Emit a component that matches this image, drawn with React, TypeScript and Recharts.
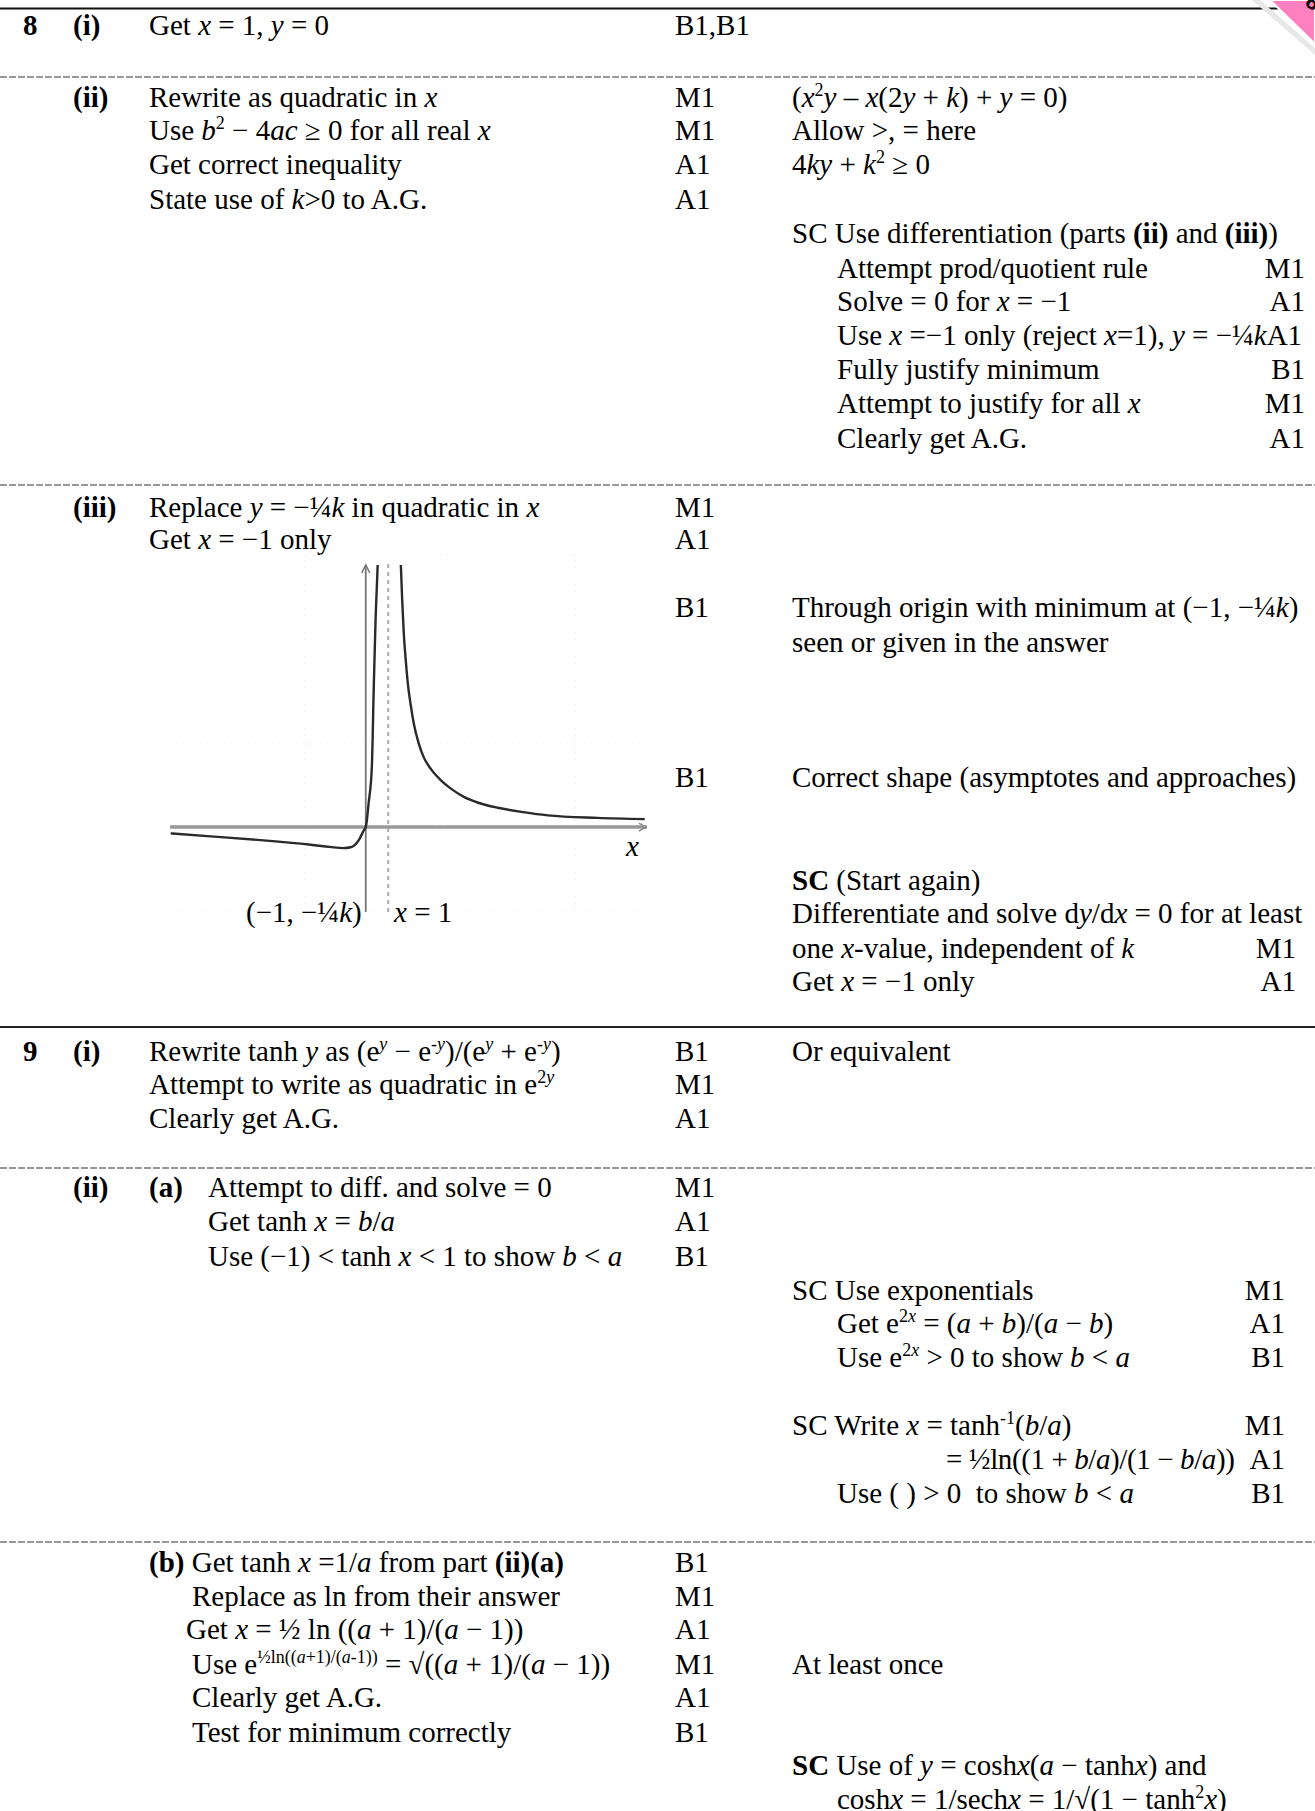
import React from 'react';
import { LineChart, Line, XAxis, YAxis, ReferenceLine, ReferenceDot, CartesianGrid } from 'recharts';

// ---- graph data (x in graph units, y in units of k) ----
const leftX = [-8.67, -6.89, -4.67, -2.44, -1.6, -1.0, -0.67, -0.31, -0.09, 0, 0.13, 0.27, 0.36, 0.44, 0.53];
const leftY = [-0.075, -0.11, -0.155, -0.21, -0.235, -0.25, -0.24, -0.155, -0.04, 0, 0.29, 0.71, 1.71, 2.5, 3.12];
const rightX = [1.56, 1.62, 1.69, 1.78, 1.87, 2.0, 2.13, 2.35, 2.58, 2.9, 3.33, 3.8, 4.36, 5.0, 5.87, 7.0, 8.09, 10.3, 12.4];
const rightY = [3.12, 2.7, 2.31, 1.98, 1.71, 1.45, 1.24, 1.0, 0.83, 0.69, 0.56, 0.455, 0.36, 0.29, 0.23, 0.178, 0.14, 0.11, 0.095];
const xDomain = [-8.7, 12.5];
const yDomain = [-1.01, 3.25];
const asymptoteX = 1;

const leftData = leftX.map((x, i) => ({ x, y: leftY[i] }));
const rightData = rightX.map((x, i) => ({ x, y: rightY[i] }));

const FS = 29;
const LH = 34;

const Txt = ({ x, y, r, children, bold }: any) => (
  <div
    style={{
      position: 'absolute',
      left: x,
      top: y - LH / 2,
      lineHeight: LH + 'px',
      whiteSpace: 'nowrap',
      fontWeight: bold ? 700 : 400,
      transform: r ? 'translateX(-100%)' : undefined,
    }}
  >
    {children}
  </div>
);
const I = ({ children }: any) => <i>{children}</i>;
const B = ({ children }: any) => <b>{children}</b>;
const Sp = ({ children }: any) => (
  <span style={{ fontSize: '0.62em', verticalAlign: '0.62em', lineHeight: 0 }}>{children}</span>
);

const C0 = 23, C1 = 73, C2 = 149, C3 = 675, C4 = 792, C5 = 837, R5 = 1305, R6 = 1285;

const upArrow = (p: any) => (
  <path d={`M${p.cx - 4},${p.cy + 8} L${p.cx},${p.cy} L${p.cx + 4},${p.cy + 8}`} fill="none" stroke="#777" strokeWidth={1.5} />
);
const rightArrow = (p: any) => (
  <path d={`M${p.cx - 7},${p.cy - 4} L${p.cx},${p.cy} L${p.cx - 7},${p.cy + 4}`} fill="none" stroke="#888" strokeWidth={1.5} />
);

function Graph() {
  return (
    <div style={{ position: 'absolute', left: 170, top: 554 }}>
      <LineChart width={477} height={358} margin={{ top: 0, right: 0, bottom: 0, left: 0 }}>
        <CartesianGrid stroke="#f3f3f3" strokeDasharray="2 4" />
        <XAxis type="number" dataKey="x" domain={xDomain} hide allowDataOverflow />
        <YAxis type="number" dataKey="y" domain={yDomain} hide allowDataOverflow />
        <ReferenceLine y={0} stroke="#999" strokeWidth={3.5} />
        <ReferenceLine segment={[{ x: 0, y: -1.01 }, { x: 0, y: 3.12 }]} stroke="#777" strokeWidth={1.8} />
        <ReferenceLine
          segment={[{ x: asymptoteX, y: -1.01 }, { x: asymptoteX, y: 3.18 }]}
          stroke="#aaa"
          strokeWidth={2}
          strokeDasharray="4 4"
        />
        <ReferenceDot x={0} y={3.12} r={0} shape={upArrow} />
        <ReferenceDot x={12.45} y={0} r={0} shape={rightArrow} />
        <Line data={leftData} dataKey="y" type="monotone" dot={false} stroke="#2a2a2a" strokeWidth={2.4} isAnimationActive={false} />
        <Line data={rightData} dataKey="y" type="monotone" dot={false} stroke="#2a2a2a" strokeWidth={2.4} isAnimationActive={false} />
      </LineChart>
    </div>
  );
}

const dashedYs = [77, 485, 1168, 1542];

export default function App() {
  return (
    <div
      style={{
        position: 'absolute',
        left: 0,
        top: 0,
        width: 1315,
        height: 1811,
        overflow: 'hidden',
        background: '#fff',
        fontFamily: "'Liberation Serif', 'Times New Roman', serif",
        fontSize: FS,
        color: '#000',
      }}
    >
      <svg width={1315} height={1811} style={{ position: 'absolute', left: 0, top: 0 }}>
        <line x1={0} y1={8.5} x2={1278} y2={8.5} stroke="#111" strokeWidth={2} />
        {dashedYs.map((y) => (
          <line key={y} x1={0} y1={y} x2={1315} y2={y} stroke="#777" strokeWidth={1.5} strokeDasharray="7 2" />
        ))}
        <line x1={0} y1={1027} x2={1315} y2={1027} stroke="#222" strokeWidth={2} />
        <polygon points="1260,0 1315,48 1315,55 1252,0" fill="#e8e8e8" />
        <polygon points="1270,0 1315,0 1315,44" fill="#ff80c0" stroke="#fff" strokeWidth={2} />
        <text x={1304} y={4} fontSize={22} fontWeight={700} fontFamily="Arial, sans-serif" transform="rotate(40 1304 4)">8</text>
      </svg>

      {/* Question 8 */}
      <Txt x={C0} y={25} bold>8</Txt>
      <Txt x={C1} y={25} bold>(i)</Txt>
      <Txt x={C2} y={25}>Get <I>x</I> = 1, <I>y</I> = 0</Txt>
      <Txt x={C3} y={25}>B1,B1</Txt>

      <Txt x={C1} y={97} bold>(ii)</Txt>
      <Txt x={C2} y={97}>Rewrite as quadratic in <I>x</I></Txt>
      <Txt x={C3} y={97}>M1</Txt>
      <Txt x={C4} y={97}>(<I>x</I><Sp>2</Sp><I>y</I> – <I>x</I>(2<I>y</I> + <I>k</I>) + <I>y</I> = 0)</Txt>
      <Txt x={C2} y={130}>Use <I>b</I><Sp>2</Sp> − 4<I>ac</I> ≥ 0 for all real <I>x</I></Txt>
      <Txt x={C3} y={130}>M1</Txt>
      <Txt x={C4} y={130}>Allow &gt;, = here</Txt>
      <Txt x={C2} y={164}>Get correct inequality</Txt>
      <Txt x={C3} y={164}>A1</Txt>
      <Txt x={C4} y={164}>4<I>ky</I> + <I>k</I><Sp>2</Sp> ≥ 0</Txt>
      <Txt x={C2} y={199}>State use of <I>k</I>&gt;0 to A.G.</Txt>
      <Txt x={C3} y={199}>A1</Txt>

      <Txt x={C4} y={233}>SC Use differentiation (parts <B>(ii)</B> and <B>(iii)</B>)</Txt>
      <Txt x={C5} y={268}>Attempt prod/quotient rule</Txt>
      <Txt x={R5} y={268} r>M1</Txt>
      <Txt x={C5} y={301}>Solve = 0 for <I>x</I> = −1</Txt>
      <Txt x={R5} y={301} r>A1</Txt>
      <Txt x={C5} y={335}>Use <I>x</I> =−1 only (reject <I>x</I>=1), <I>y</I> = −¼<I>k</I>A1</Txt>
      <Txt x={C5} y={369}>Fully justify minimum</Txt>
      <Txt x={R5} y={369} r>B1</Txt>
      <Txt x={C5} y={403}>Attempt to justify for all <I>x</I></Txt>
      <Txt x={R5} y={403} r>M1</Txt>
      <Txt x={C5} y={438}>Clearly get A.G.</Txt>
      <Txt x={R5} y={438} r>A1</Txt>

      <Txt x={C1} y={507} bold>(iii)</Txt>
      <Txt x={C2} y={507}>Replace <I>y</I> = −¼<I>k</I> in quadratic in <I>x</I></Txt>
      <Txt x={C3} y={507}>M1</Txt>
      <Txt x={C2} y={539}>Get <I>x</I> = −1 only</Txt>
      <Txt x={C3} y={539}>A1</Txt>

      <Graph />
      <Txt x={246} y={912}>(−1, −¼<I>k</I>)</Txt>
      <Txt x={394} y={912}><I>x</I> = 1</Txt>
      <Txt x={626} y={846}><I>x</I></Txt>

      <Txt x={C3} y={607}>B1</Txt>
      <Txt x={C4} y={607}>Through origin with minimum at (−1, −¼<I>k</I>)</Txt>
      <Txt x={C4} y={642}>seen or given in the answer</Txt>
      <Txt x={C3} y={777}>B1</Txt>
      <Txt x={C4} y={777}>Correct shape (asymptotes and approaches)</Txt>

      <Txt x={C4} y={880}><B>SC</B> (Start again)</Txt>
      <Txt x={C4} y={913}>Differentiate and solve d<I>y</I>/d<I>x</I> = 0 for at least</Txt>
      <Txt x={C4} y={948}>one <I>x</I>-value, independent of <I>k</I></Txt>
      <Txt x={1296} y={948} r>M1</Txt>
      <Txt x={C4} y={981}>Get <I>x</I> = −1 only</Txt>
      <Txt x={1296} y={981} r>A1</Txt>

      {/* Question 9 */}
      <Txt x={C0} y={1051} bold>9</Txt>
      <Txt x={C1} y={1051} bold>(i)</Txt>
      <Txt x={C2} y={1051}>Rewrite tanh <I>y</I> as (e<Sp><I>y</I></Sp> − e<Sp>-<I>y</I></Sp>)/(e<Sp><I>y</I></Sp> + e<Sp>-<I>y</I></Sp>)</Txt>
      <Txt x={C3} y={1051}>B1</Txt>
      <Txt x={C4} y={1051}>Or equivalent</Txt>
      <Txt x={C2} y={1084}>Attempt to write as quadratic in e<Sp>2<I>y</I></Sp></Txt>
      <Txt x={C3} y={1084}>M1</Txt>
      <Txt x={C2} y={1118}>Clearly get A.G.</Txt>
      <Txt x={C3} y={1118}>A1</Txt>

      <Txt x={C1} y={1187} bold>(ii)</Txt>
      <Txt x={C2} y={1187} bold>(a)</Txt>
      <Txt x={208} y={1187}>Attempt to diff. and solve = 0</Txt>
      <Txt x={C3} y={1187}>M1</Txt>
      <Txt x={208} y={1221}>Get tanh <I>x</I> = <I>b</I>/<I>a</I></Txt>
      <Txt x={C3} y={1221}>A1</Txt>
      <Txt x={208} y={1256}>Use (−1) &lt; tanh <I>x</I> &lt; 1 to show <I>b</I> &lt; <I>a</I></Txt>
      <Txt x={C3} y={1256}>B1</Txt>

      <Txt x={C4} y={1290}>SC Use exponentials</Txt>
      <Txt x={R6} y={1290} r>M1</Txt>
      <Txt x={C5} y={1323}>Get e<Sp>2<I>x</I></Sp> = (<I>a</I> + <I>b</I>)/(<I>a</I> − <I>b</I>)</Txt>
      <Txt x={R6} y={1323} r>A1</Txt>
      <Txt x={C5} y={1357}>Use e<Sp>2<I>x</I></Sp> &gt; 0 to show <I>b</I> &lt; <I>a</I></Txt>
      <Txt x={R6} y={1357} r>B1</Txt>

      <Txt x={C4} y={1425}>SC Write <I>x</I> = tanh<Sp>-1</Sp>(<I>b</I>/<I>a</I>)</Txt>
      <Txt x={R6} y={1425} r>M1</Txt>
      <div style={{ position: 'absolute', left: 0, top: 0, letterSpacing: '-0.4px' }}>
        <Txt x={946} y={1459}>= ½ln((1 + <I>b</I>/<I>a</I>)/(1 − <I>b</I>/<I>a</I>))</Txt>
      </div>
      <Txt x={R6} y={1459} r>A1</Txt>
      <Txt x={C5} y={1493}>Use ( ) &gt; 0&nbsp; to show <I>b</I> &lt; <I>a</I></Txt>
      <Txt x={R6} y={1493} r>B1</Txt>

      <Txt x={C2} y={1562}><B>(b)</B> Get tanh <I>x</I> =1/<I>a</I> from part <B>(ii)(a)</B></Txt>
      <Txt x={C3} y={1562}>B1</Txt>
      <Txt x={192} y={1596}>Replace as ln from their answer</Txt>
      <Txt x={C3} y={1596}>M1</Txt>
      <Txt x={186} y={1629}>Get <I>x</I> = ½ ln ((<I>a</I> + 1)/(<I>a</I> − 1))</Txt>
      <Txt x={C3} y={1629}>A1</Txt>
      <Txt x={192} y={1664}>Use e<Sp>½ln((<I>a</I>+1)/(<I>a</I>-1))</Sp> = √((<I>a</I> + 1)/(<I>a</I> − 1))</Txt>
      <Txt x={C3} y={1664}>M1</Txt>
      <Txt x={C4} y={1664}>At least once</Txt>
      <Txt x={192} y={1697}>Clearly get A.G.</Txt>
      <Txt x={C3} y={1697}>A1</Txt>
      <Txt x={192} y={1732}>Test for minimum correctly</Txt>
      <Txt x={C3} y={1732}>B1</Txt>

      <Txt x={C4} y={1765}><B>SC</B> Use of <I>y</I> = cosh<I>x</I>(<I>a</I> − tanh<I>x</I>) and</Txt>
      <Txt x={C5} y={1799}>cosh<I>x</I> = 1/sech<I>x</I> = 1/√(1 − tanh<Sp>2</Sp><I>x</I>)</Txt>
    </div>
  );
}
